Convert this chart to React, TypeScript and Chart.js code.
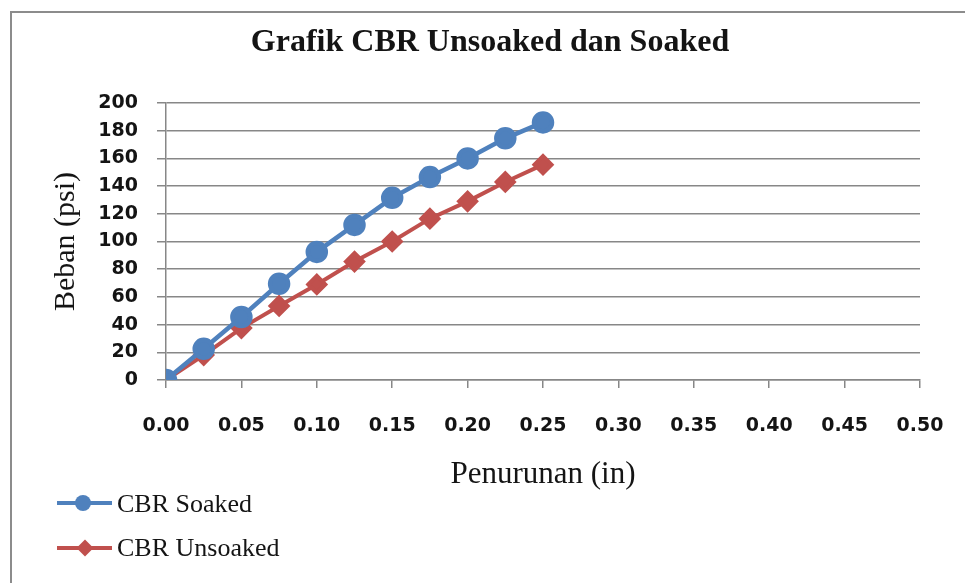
import React, { useEffect, useRef } from "react";
import { Chart, registerables } from "chart.js";

Chart.register(...registerables);

// ---- data ----
const penurunan = [0, 0.025, 0.05, 0.075, 0.1, 0.125, 0.15, 0.175, 0.2, 0.225, 0.25];
const bebanSoaked = [0, 22.5, 45.5, 69.5, 92.5, 112, 131.5, 146.5, 160, 174.5, 186];
const bebanUnsoaked = [0, 18, 37.5, 53.5, 69, 85.5, 100, 116.5, 129, 143, 155.5];
const seriesLabels = ["CBR Soaked", "CBR Unsoaked"];
const chartTitle = "Grafik CBR Unsoaked dan Soaked";
const xAxisTitle = "Penurunan (in)";
const yAxisTitle = "Beban (psi)";
const xTicks = { min: 0, max: 0.5, step: 0.05 };
const yTicks = { min: 0, max: 200, step: 20 };

const BLUE = "#4F81BD";
const RED = "#C0504D";
const GRID = "#878787";
const TEXT = "#141414";

const legendPlugin = {
  id: "verticalLegend",
  afterDraw(chart: any) {
    const ctx = chart.ctx;
    const rows = [
      { y: 503, base: 512 },
      { y: 548, base: 556 },
    ];
    chart.data.datasets.forEach((ds: any, i: number) => {
      const r = rows[i];
      if (!r) return;
      ctx.save();
      ctx.strokeStyle = ds.borderColor;
      ctx.lineWidth = 4;
      ctx.beginPath();
      ctx.moveTo(57, r.y);
      ctx.lineTo(112, r.y);
      ctx.stroke();
      ctx.fillStyle = ds.pointBackgroundColor;
      ctx.beginPath();
      if (ds.pointStyle === "rectRot") {
        const s = 8.5;
        const cx = 85;
        ctx.moveTo(cx - s, r.y);
        ctx.lineTo(cx, r.y - s);
        ctx.lineTo(cx + s, r.y);
        ctx.lineTo(cx, r.y + s);
        ctx.closePath();
      } else {
        ctx.arc(83, r.y, 8, 0, Math.PI * 2);
      }
      ctx.fill();
      ctx.font = '26px "Liberation Serif"';
      ctx.fillStyle = TEXT;
      ctx.textAlign = "left";
      ctx.textBaseline = "alphabetic";
      ctx.fillText(ds.label, 117, r.base);
      ctx.restore();
    });
  },
};

export default function App() {
  const ref = useRef<HTMLCanvasElement | null>(null);

  useEffect(() => {
    if (!ref.current) return;
    const chart = new Chart(ref.current, {
      type: "scatter",
      data: {
        datasets: [
          {
            label: seriesLabels[0],
            data: penurunan.map((x, i) => ({ x, y: bebanSoaked[i] })),
            showLine: true,
            borderColor: BLUE,
            backgroundColor: BLUE,
            pointBackgroundColor: BLUE,
            pointBorderColor: BLUE,
            borderWidth: 4.5,
            pointRadius: 9,
            pointStyle: "circle",
            order: 1,
          },
          {
            label: seriesLabels[1],
            data: penurunan.map((x, i) => ({ x, y: bebanUnsoaked[i] })),
            showLine: true,
            borderColor: RED,
            backgroundColor: RED,
            pointBackgroundColor: RED,
            pointBorderColor: RED,
            borderWidth: 4,
            pointRadius: 8.5,
            pointStyle: "rectRot",
            order: 2,
          },
        ],
      },
      options: {
        animation: false,
        responsive: false,
        events: [],
        layout: { padding: { left: 60, right: 45, top: 0, bottom: 90 } },
        plugins: {
          legend: { display: false },
          tooltip: { enabled: false },
          title: {
            display: true,
            text: chartTitle,
            color: TEXT,
            font: { family: '"Liberation Serif"', size: 32, weight: "bold", lineHeight: 1.2 },
            padding: { top: 24, bottom: 40.6 },
          },
        },
        scales: {
          x: {
            type: "linear",
            min: xTicks.min,
            max: xTicks.max,
            afterFit(scale: any) {
              scale.height = 113;
              scale.paddingRight = 10;
              scale.paddingLeft = 10;
            },
            ticks: {
              stepSize: xTicks.step,
              color: TEXT,
              padding: 27,
              font: { family: '"DejaVu Sans"', size: 19, weight: "bold" },
              callback: (v: any) => Number(v).toFixed(2),
              maxRotation: 0,
              autoSkip: false,
            },
            grid: {
              drawOnChartArea: false,
              drawTicks: true,
              tickLength: 8,
              color: GRID,
              lineWidth: 1.5,
            },
            border: { display: true, color: GRID, width: 1.5 },
            title: {
              display: true,
              text: xAxisTitle,
              color: TEXT,
              font: { family: '"Liberation Serif"', size: 31, lineHeight: 1.2 },
              padding: { top: 0, bottom: 0 },
            },
          },
          y: {
            type: "linear",
            min: yTicks.min,
            max: yTicks.max,
            afterFit(scale: any) {
              scale.width = 106;
            },
            ticks: {
              stepSize: yTicks.step,
              color: TEXT,
              padding: 19,
              font: { family: '"DejaVu Sans"', size: 19, weight: "bold" },
            },
            grid: {
              drawTicks: true,
              tickLength: 9,
              color: GRID,
              lineWidth: 1.5,
            },
            border: { display: true, color: GRID, width: 1.5 },
            title: {
              display: true,
              text: yAxisTitle,
              color: TEXT,
              font: { family: '"Liberation Serif"', size: 30, lineHeight: 0.4 },
              padding: { top: 0, bottom: 0 },
            },
          },
        },
      },
      plugins: [legendPlugin],
    } as any);
    return () => chart.destroy();
  }, []);

  return (
    <div style={{ position: "fixed", left: 0, top: 0, width: 965, height: 583, overflow: "hidden", background: "#fff" }}>
      <div
        style={{
          position: "absolute",
          left: 10,
          top: 11,
          width: 1000,
          height: 700,
          border: "2px solid #8c8c8c",
          boxSizing: "border-box",
        }}
      />
      <canvas ref={ref} width={965} height={583} style={{ position: "absolute", left: 0, top: 0, width: 965, height: 583 }} />
    </div>
  );
}
